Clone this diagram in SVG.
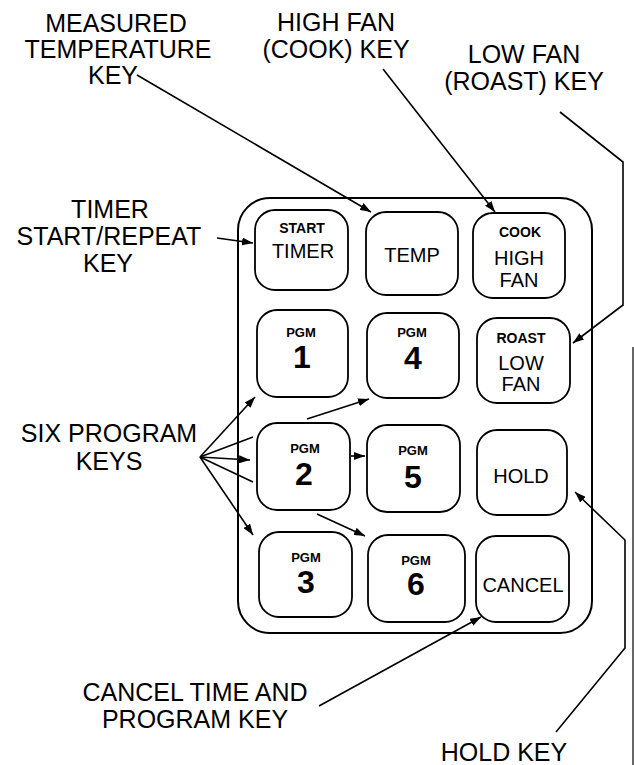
<svg xmlns="http://www.w3.org/2000/svg" width="634" height="765" viewBox="0 0 634 765">
<defs>
<marker id="ah" markerUnits="userSpaceOnUse" markerWidth="11" markerHeight="8" refX="11" refY="4" orient="auto">
<path d="M0,0 L11,4 L0,8 z" fill="#000"/>
</marker>
<style>
.lbl{font-family:"Liberation Sans",Arial,sans-serif;font-size:25px;fill:#000;text-anchor:middle}
.key{fill:#fff;stroke:#000;stroke-width:1.8}
.sm{font-family:"Liberation Sans",Arial,sans-serif;font-size:14px;font-weight:bold;fill:#000;text-anchor:middle}
.pg{font-family:"Liberation Sans",Arial,sans-serif;font-size:13px;font-weight:bold;fill:#000;text-anchor:middle}
.md{font-family:"Liberation Sans",Arial,sans-serif;font-size:20px;fill:#000;text-anchor:middle}
.dg{font-family:"Liberation Sans",Arial,sans-serif;font-size:32px;font-weight:bold;fill:#000;text-anchor:middle}
.c{fill:none;stroke:#000;stroke-width:1.6}
.a{marker-end:url(#ah)}
</style>
</defs>
<rect width="634" height="765" fill="#fff"/>

<g id="panel"><rect x="238" y="198" width="354" height="435" rx="32" fill="none" stroke="#000" stroke-width="2"/></g>

<g id="key-timer"><rect class="key" x="255" y="210" width="93" height="80" rx="20"/><text class="sm" x="302" y="233">START</text><text class="md" x="303" y="258">TIMER</text></g>
<g id="key-temp"><rect class="key" x="366" y="212" width="92" height="83" rx="20"/><text class="md" x="412" y="262">TEMP</text></g>
<g id="key-high"><rect class="key" x="473" y="213" width="92" height="85" rx="20"/><text class="sm" x="520" y="237">COOK</text><text class="md" x="519" y="265">HIGH</text><text class="md" x="519" y="287">FAN</text></g>
<g id="key-pgm1"><rect class="key" x="257" y="310" width="91" height="87" rx="20"/><text class="pg" x="301" y="337">PGM</text><text class="dg" x="302" y="368">1</text></g>
<g id="key-pgm4"><rect class="key" x="367" y="313" width="92" height="85" rx="20"/><text class="pg" x="412" y="337">PGM</text><text class="dg" x="413" y="369">4</text></g>
<g id="key-low"><rect class="key" x="477" y="318" width="93" height="85" rx="20"/><text class="sm" x="521" y="343">ROAST</text><text class="md" x="521" y="370">LOW</text><text class="md" x="521" y="391">FAN</text></g>
<g id="key-pgm2"><rect class="key" x="257" y="423" width="93" height="87" rx="20"/><text class="pg" x="305" y="453">PGM</text><text class="dg" x="304" y="485">2</text></g>
<g id="key-pgm5"><rect class="key" x="367" y="425" width="93" height="87" rx="20"/><text class="pg" x="413" y="455">PGM</text><text class="dg" x="413" y="488">5</text></g>
<g id="key-hold"><rect class="key" x="477" y="430" width="90" height="85" rx="20"/><text class="md" x="521" y="483">HOLD</text></g>
<g id="key-pgm3"><rect class="key" x="259" y="532" width="93" height="85" rx="20"/><text class="pg" x="306" y="562">PGM</text><text class="dg" x="306" y="593">3</text></g>
<g id="key-pgm6"><rect class="key" x="368" y="535" width="97" height="87" rx="20"/><text class="pg" x="416" y="565">PGM</text><text class="dg" x="416" y="595">6</text></g>
<g id="key-cancel"><rect class="key" x="476" y="536" width="93" height="86" rx="20"/><text class="md" x="523" y="592">CANCEL</text></g>

<g id="label-measured"><text class="lbl" x="116" y="32">MEASURED</text><text class="lbl" x="118" y="58">TEMPERATURE</text><text class="lbl" x="113" y="84">KEY</text></g>
<g id="label-high"><text class="lbl" x="336" y="31">HIGH FAN</text><text class="lbl" x="336" y="58">(COOK) KEY</text></g>
<g id="label-low"><text class="lbl" x="524" y="63">LOW FAN</text><text class="lbl" x="524" y="90">(ROAST) KEY</text></g>
<g id="label-timer"><text class="lbl" x="110" y="218">TIMER</text><text class="lbl" x="109" y="245">START/REPEAT</text><text class="lbl" x="108" y="272">KEY</text></g>
<g id="label-six"><text class="lbl" x="109" y="442">SIX PROGRAM</text><text class="lbl" x="109" y="470">KEYS</text></g>
<g id="label-cancel"><text class="lbl" x="195" y="701">CANCEL TIME AND</text><text class="lbl" x="195" y="728">PROGRAM KEY</text></g>
<g id="label-hold"><text class="lbl" x="504" y="761">HOLD KEY</text></g>

<g id="connectors">
<line class="c a" x1="137" y1="75" x2="371" y2="212"/>
<line class="c a" x1="383" y1="69" x2="495" y2="212"/>
<polyline class="c a" points="560,112 623,162 623,305 573,343"/>
<line class="c a" x1="217" y1="238" x2="253" y2="243"/>
<line class="c a" x1="200" y1="457" x2="255" y2="397"/>
<line class="c" x1="200" y1="457" x2="253" y2="437"/>
<line class="c a" x1="200" y1="457" x2="250" y2="460" stroke-width="2.6"/>
<line class="c" x1="200" y1="457" x2="253" y2="482"/>
<line class="c a" x1="200" y1="457" x2="253" y2="535"/>
<line class="c a" x1="307" y1="419" x2="369" y2="399"/>
<line class="c a" x1="351" y1="456" x2="365" y2="456"/>
<line class="c a" x1="317" y1="514" x2="365" y2="536"/>
<line class="c a" x1="319" y1="706" x2="481" y2="617"/>
<polyline class="c a" points="556,732 625,648 625,540 575,492"/>
</g>
<line x1="633" y1="347" x2="633" y2="765" stroke="#000" stroke-width="1.2"/>
</svg>
